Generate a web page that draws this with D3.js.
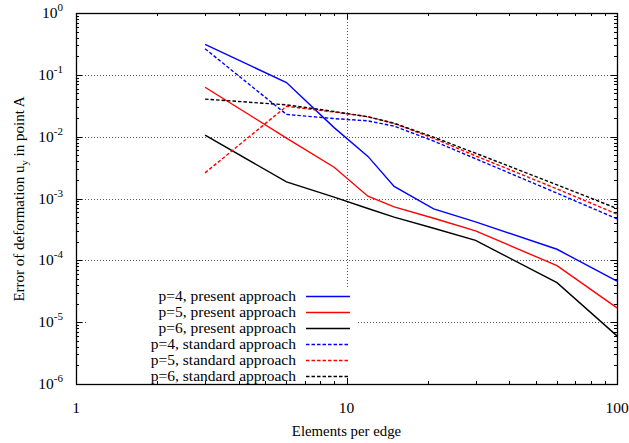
<!DOCTYPE html>
<html>
<head>
<script src="https://d3js.org/d3.v7.min.js"></script>
<style>
  body { margin: 0; background: #fff; }
  text { font-family: "Liberation Serif", "Times New Roman", serif; fill: #000; }
</style>
</head>
<body>
<script>
// elements per edge
var elements = [3, 6, 9, 12, 15, 21, 30, 60, 100];

// error of u_y in point A
var p4Present  = [0.31, 0.075, 0.014, 0.0048, 0.00157, 0.00068, 0.00042, 0.000151, 0.000046];
var p5Present  = [0.063, 0.0095, 0.0032, 0.00109, 0.00073, 0.00048, 0.0003, 0.000082, 0.000017];
var p6Present  = [0.0106, 0.00186, 0.00105, 0.00069, 0.0005, 0.00033, 0.00021, 0.0000435, 0.000006];
var p4Standard = [0.264, 0.0229, 0.0196, 0.018, 0.0148, 0.0085, 0.0044, 0.00122, 0.00047];
var p5Standard = [0.0026, 0.031, 0.025, 0.021, 0.0163, 0.0094, 0.0049, 0.00143, 0.00056];
var p6Standard = [0.0405, 0.0327, 0.0255, 0.021, 0.0165, 0.0098, 0.0054, 0.00166, 0.00069];

var xTicks = [1, 10, 100];
var yExponents = [0, -1, -2, -3, -4, -5, -6];

var series = [
  {name: "p=4, present approach",  values: p4Present,  color: "#0000ff", dash: null},
  {name: "p=5, present approach",  values: p5Present,  color: "#ff0000", dash: null},
  {name: "p=6, present approach",  values: p6Present,  color: "#000000", dash: null},
  {name: "p=4, standard approach", values: p4Standard, color: "#0000ff", dash: "3.5,2"},
  {name: "p=5, standard approach", values: p5Standard, color: "#ff0000", dash: "3.5,2"},
  {name: "p=6, standard approach", values: p6Standard, color: "#000000", dash: "3.5,2"}
];

var W = 629, H = 443;
var mLeft = 76, mRight = 617, mTop = 13, mBottom = 384;

var svg = d3.select("body").append("svg")
  .attr("width", W).attr("height", H);

var x = d3.scaleLog().domain([1, 100]).range([mLeft, mRight]);
var y = d3.scaleLog().domain([1e-6, 1]).range([mBottom, mTop]);

// grid
var grid = svg.append("g")
  .attr("stroke", "#555").attr("stroke-width", 1).attr("stroke-dasharray", "1,2");
yExponents.slice(1, -1).forEach(function(e){
  var py = Math.round(y(Math.pow(10, e))) + 0.5;
  grid.append("line").attr("x1", mLeft).attr("x2", mRight).attr("y1", py).attr("y2", py);
});
var gx = Math.round(x(10)) + 0.5;
grid.append("line").attr("x1", gx).attr("x2", gx).attr("y1", mTop).attr("y2", mBottom);

// lines
var line = d3.line()
  .x(function(d, i){ return x(elements[i]); })
  .y(function(d){ return y(d); });

var plot = svg.append("g");
series.forEach(function(s){
  plot.append("path")
    .attr("d", line(s.values))
    .attr("fill", "none")
    .attr("stroke", s.color)
    .attr("stroke-width", 1.4)
    .attr("stroke-dasharray", s.dash);
});

// legend box (opaque)
var legend = svg.append("g");
legend.append("rect")
  .attr("x", 86).attr("y", 287).attr("width", 272).attr("height", mBottom - 287)
  .attr("fill", "#fff");
series.forEach(function(s, i){
  var ly = 296 + i * 16;
  legend.append("text")
    .attr("x", 296).attr("y", ly + 5)
    .attr("text-anchor", "end")
    .attr("font-size", 15.5)
    .text(s.name);
  legend.append("line")
    .attr("x1", 306).attr("x2", 350).attr("y1", ly + 0.5).attr("y2", ly + 0.5)
    .attr("stroke", s.color).attr("stroke-width", 1.4)
    .attr("stroke-dasharray", s.dash);
});

// frame
svg.append("rect")
  .attr("x", mLeft + 0.5).attr("y", mTop + 0.5)
  .attr("width", mRight - mLeft).attr("height", mBottom - mTop)
  .attr("fill", "none").attr("stroke", "#000").attr("stroke-width", 1.3);

// ticks (inward, mirrored)
var ticks = svg.append("g").attr("stroke", "#000").attr("stroke-width", 1);
var xMinor = [];
for (var d = 1; d < 100; d *= 10) for (var k = 1; k < 10; k++) xMinor.push(d * k);
xMinor.push(100);
xMinor.forEach(function(v){
  var px = Math.round(x(v)) + 0.5;
  var len = xTicks.indexOf(v) >= 0 ? 6 : 3;
  ticks.append("line").attr("x1", px).attr("x2", px).attr("y1", mBottom).attr("y2", mBottom - len);
  ticks.append("line").attr("x1", px).attr("x2", px).attr("y1", mTop).attr("y2", mTop + len);
});
for (var e = -6; e <= 0; e++) {
  for (var k = 1; k < 10; k++) {
    if (e === 0 && k > 1) break;
    var v = k * Math.pow(10, e);
    var py = Math.round(y(v)) + 0.5;
    var len = k === 1 ? 6 : 3;
    ticks.append("line").attr("x1", mLeft).attr("x2", mLeft + len).attr("y1", py).attr("y2", py);
    ticks.append("line").attr("x1", mRight).attr("x2", mRight - len).attr("y1", py).attr("y2", py);
  }
}

// y tick labels
yExponents.forEach(function(e){
  var t = svg.append("text")
    .attr("x", 63).attr("y", y(Math.pow(10, e)) + 5)
    .attr("text-anchor", "end")
    .attr("font-size", 15.5);
  t.append("tspan").text("10");
  t.append("tspan").attr("dy", -7).attr("font-size", 11).text(String(e));
});

// x tick labels
xTicks.forEach(function(v){
  svg.append("text")
    .attr("x", x(v)).attr("y", 413)
    .attr("text-anchor", "middle")
    .attr("font-size", 15.5)
    .text(v);
});

// axis titles
svg.append("text")
  .attr("x", x(10)).attr("y", 436)
  .attr("text-anchor", "middle")
  .attr("font-size", 14.8)
  .text("Elements per edge");

var yt = svg.append("text")
  .attr("transform", "translate(24,199) rotate(-90)")
  .attr("text-anchor", "middle")
  .attr("font-size", 15);
yt.append("tspan").text("Error of deformation u");
yt.append("tspan").attr("dy", 4).attr("font-size", 10.5).text("y");
yt.append("tspan").attr("dy", -4).text(" in point A");
</script>
</body>
</html>
